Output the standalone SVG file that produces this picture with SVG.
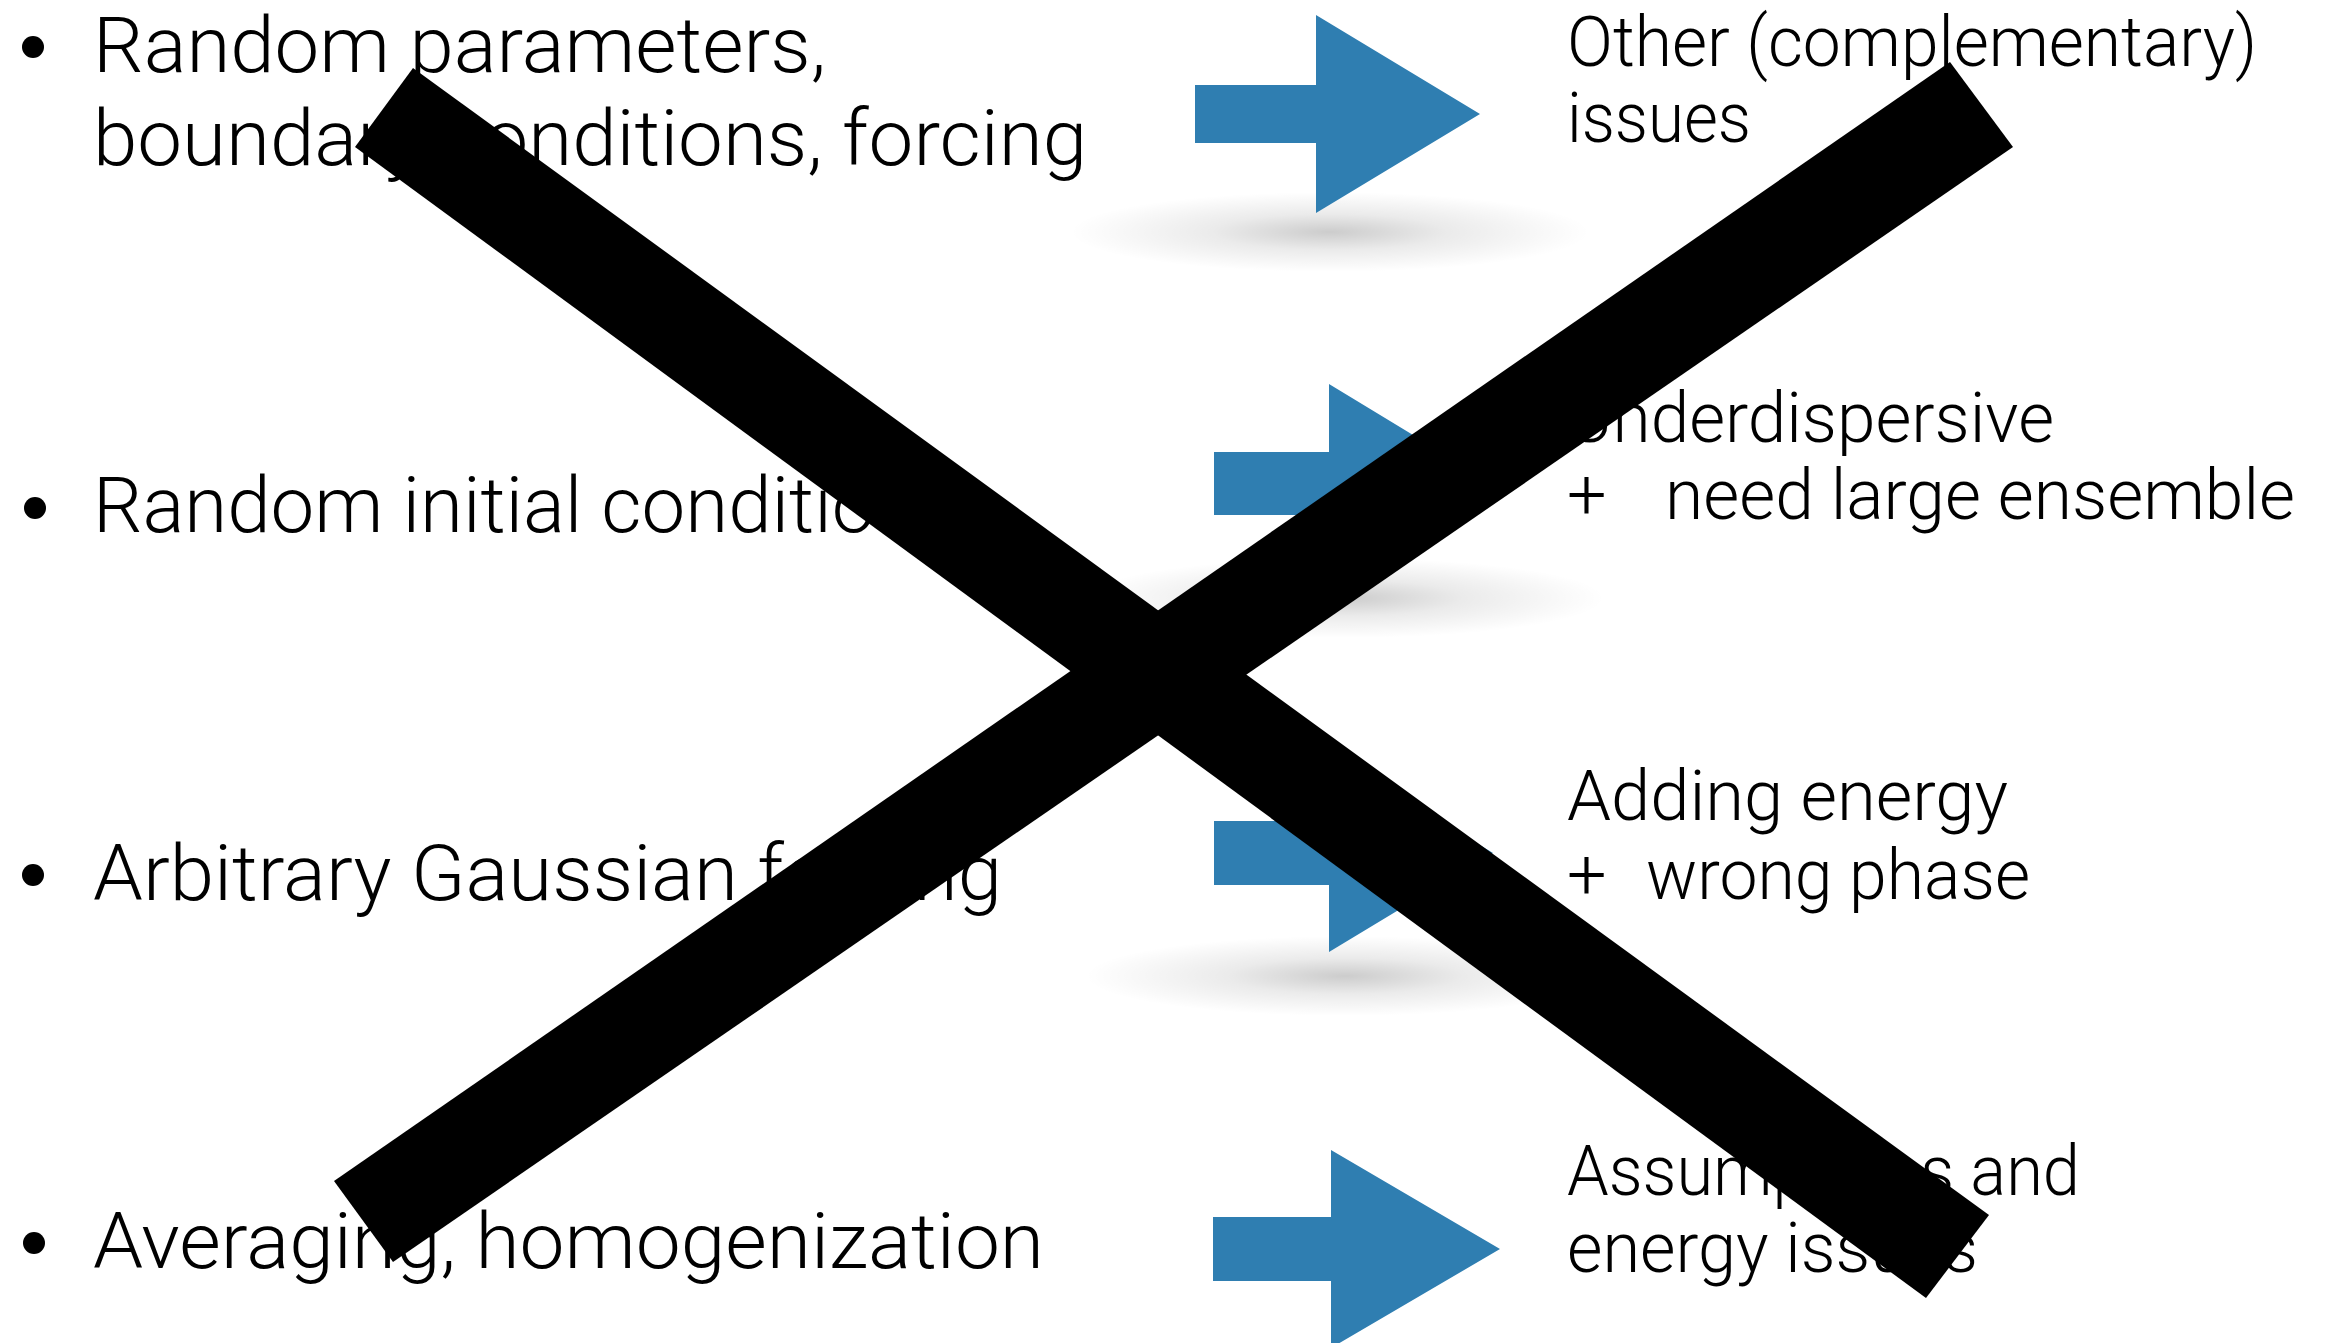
<svg xmlns="http://www.w3.org/2000/svg" width="2325" height="1343" viewBox="0 0 2325 1343">
<defs>
<radialGradient id="shadow" cx="0.5" cy="0.5" r="0.5">
<stop offset="0" stop-color="#000" stop-opacity="0.2"/>
<stop offset="0.45" stop-color="#000" stop-opacity="0.08"/>
<stop offset="1" stop-color="#000" stop-opacity="0"/>
</radialGradient>
</defs>
<style>
.t{font-family:Roboto,"Liberation Sans",sans-serif;font-weight:300;fill:#000}
.l{font-size:78px}
.r{font-size:70px}
.arrow{fill:#2f7eb1}
.bar{fill:#000}
</style>
<rect width="2325" height="1343" fill="#fff"/>
<g id="shadows">
<ellipse cx="1330" cy="232" rx="260" ry="40" fill="url(#shadow)"/>
<ellipse cx="1345" cy="598" rx="260" ry="40" fill="url(#shadow)"/>
<ellipse cx="1345" cy="976" rx="260" ry="40" fill="url(#shadow)"/>
</g>
<g id="item1">
<circle cx="33" cy="47" r="11"/>
<text class="t l" x="93" y="72" textLength="733" lengthAdjust="spacingAndGlyphs">Random parameters,</text>
<text class="t l" x="93" y="165" textLength="994" lengthAdjust="spacingAndGlyphs">boundary conditions, forcing</text>
</g>
<g id="item2">
<circle cx="35" cy="508" r="11"/>
<text class="t l" x="93" y="532">Random initial conditions</text>
</g>
<g id="item3">
<circle cx="33" cy="875" r="11"/>
<text class="t l" x="93" y="900" textLength="909" lengthAdjust="spacingAndGlyphs">Arbitrary Gaussian forcing</text>
</g>
<g id="item4">
<circle cx="34" cy="1243" r="11"/>
<text class="t l" x="93" y="1268" textLength="951" lengthAdjust="spacingAndGlyphs">Averaging, homogenization</text>
</g>
<g id="connectors">
<polygon class="arrow" points="1195,85 1316,85 1316,15 1480,114 1316,213 1316,143 1195,143"/>
<polygon class="arrow" points="1214,452 1329,452 1329,384 1493,483.5 1329,583 1329,515 1214,515"/>
<polygon class="arrow" points="1214,821 1329,821 1329,754 1493,853 1329,952 1329,885 1214,885"/>
<polygon class="arrow" points="1213,1217 1331,1217 1331,1150 1500,1249 1331,1348 1331,1281 1213,1281"/>
</g>
<g id="result1">
<text class="t r" x="1567" y="66" textLength="690" lengthAdjust="spacingAndGlyphs">Other (complementary)</text>
<text class="t r" x="1567" y="142" textLength="184" lengthAdjust="spacingAndGlyphs">issues</text>
</g>
<g id="result2">
<text class="t r" x="1567" y="442" textLength="487" lengthAdjust="spacingAndGlyphs">Underdispersive</text>
<text class="t r" x="1567" y="519">+</text>
<text class="t r" x="1665" y="519" textLength="630" lengthAdjust="spacingAndGlyphs">need large ensemble</text>
</g>
<g id="result3">
<text class="t r" x="1567" y="820" textLength="441" lengthAdjust="spacingAndGlyphs">Adding energy</text>
<text class="t r" x="1567" y="899">+</text>
<text class="t r" x="1646" y="899" textLength="384" lengthAdjust="spacingAndGlyphs">wrong phase</text>
</g>
<g id="result4">
<text class="t r" x="1567" y="1195" textLength="513" lengthAdjust="spacingAndGlyphs">Assumptions and</text>
<text class="t r" x="1567" y="1272" textLength="411" lengthAdjust="spacingAndGlyphs">energy issues</text>
</g>
<g id="cross">
<polygon class="bar" points="413,68 1989,1215 1926,1298 355,147"/>
<polygon class="bar" points="334,1181 1950,62 2013,147 393,1262"/>
</g>
</svg>
